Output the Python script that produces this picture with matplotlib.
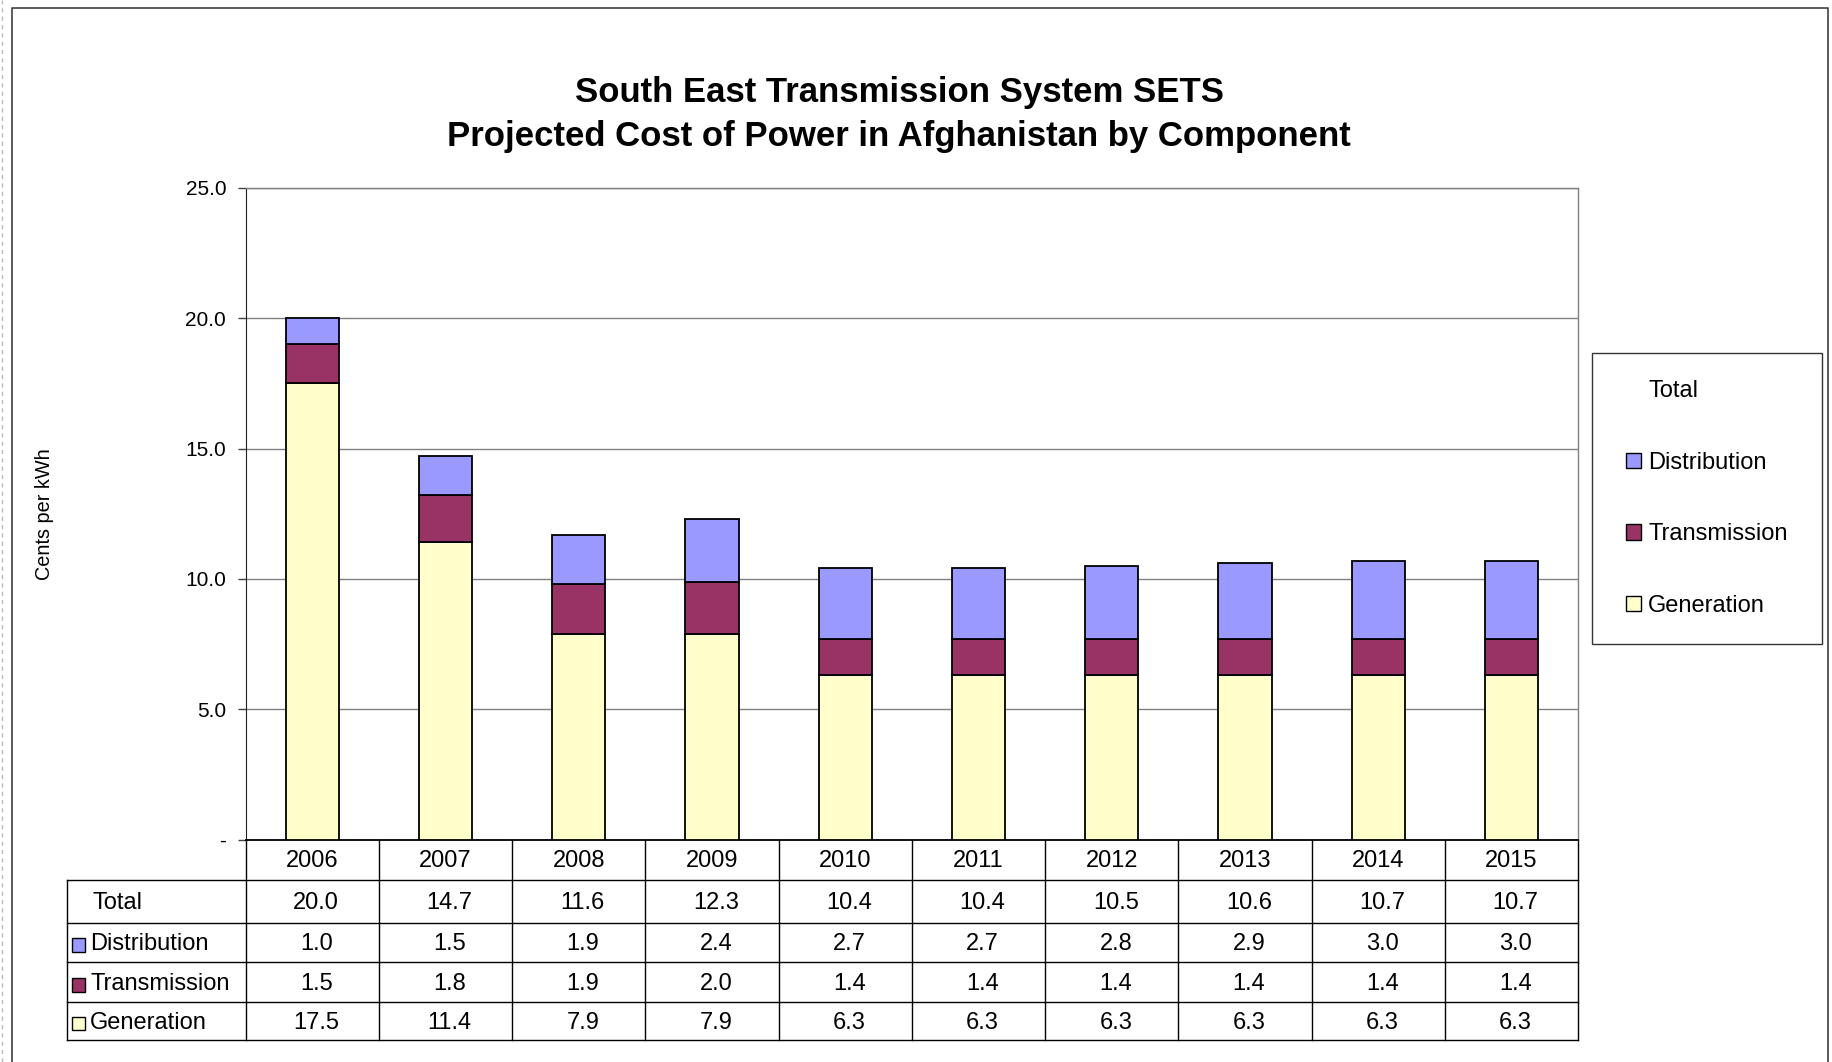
import numpy as np
import matplotlib.pyplot as plt
import matplotlib.transforms as mtransforms
from matplotlib.patches import Rectangle
from matplotlib.lines import Line2D

years = ['2006', '2007', '2008', '2009', '2010', '2011', '2012', '2013', '2014', '2015']
generation = [17.5, 11.4, 7.9, 7.9, 6.3, 6.3, 6.3, 6.3, 6.3, 6.3]
transmission = [1.5, 1.8, 1.9, 2.0, 1.4, 1.4, 1.4, 1.4, 1.4, 1.4]
distribution = [1.0, 1.5, 1.9, 2.4, 2.7, 2.7, 2.8, 2.9, 3.0, 3.0]
totals = [20.0, 14.7, 11.6, 12.3, 10.4, 10.4, 10.5, 10.6, 10.7, 10.7]

series_names = ['Distribution', 'Transmission', 'Generation']
series_colors = ['#9999FF', '#993366', '#FFFFCC']

plt.rcParams['font.family'] = ['Liberation Sans', 'DejaVu Sans']


def main():
    fig = plt.figure(figsize=(18.33, 10.62), dpi=100)
    ax = fig.add_axes([0.134, 0.2095, 0.727, 0.6135])

    x = np.arange(len(years))
    width = 0.4
    gen = np.array(generation)
    trn = np.array(transmission)
    dst = np.array(distribution)
    ax.bar(x, gen, width, color=series_colors[2], edgecolor='black', lw=1.3, zorder=3)
    ax.bar(x, trn, width, bottom=gen, color=series_colors[1], edgecolor='black', lw=1.3, zorder=3)
    ax.bar(x, dst, width, bottom=gen + trn, color=series_colors[0], edgecolor='black', lw=1.3, zorder=3)

    ax.set_xlim(-0.5, len(years) - 0.5)
    ax.set_ylim(0, 25)
    yt = np.arange(0, 26, 5)
    ax.set_yticks(yt)
    ax.set_yticklabels(['-' if v == 0 else '{:.1f}'.format(v) for v in yt], fontsize=15)
    ax.tick_params(axis='y', length=6, width=1, color='#404040', pad=8)
    ax.set_xticks([])
    ax.yaxis.grid(True, color='#808080', lw=1)
    ax.set_axisbelow(True)
    for side in ['top', 'right']:
        ax.spines[side].set_color('#808080')
        ax.spines[side].set_linewidth(1)
    ax.spines['left'].set_color('#202020')
    ax.spines['bottom'].set_color('black')
    ax.spines['bottom'].set_linewidth(1.3)

    # data table under the bars, aligned with categories
    trans = mtransforms.blended_transform_factory(ax.transData, ax.transAxes)
    rows = [0, -0.0628, -0.1275, -0.1885, -0.2496, -0.307]
    lab_left = -1.842
    line_kw = dict(color='black', lw=1, transform=trans, clip_on=False)
    for b in np.arange(-0.5, len(years), 1.0):
        ax.add_line(Line2D([b, b], [rows[0], rows[-1]], **line_kw))
    ax.add_line(Line2D([lab_left, lab_left], [rows[1], rows[-1]], **line_kw))
    for r in rows[1:]:
        ax.add_line(Line2D([lab_left, len(years) - 0.5], [r, r], **line_kw))

    for i, yr in enumerate(years):
        ax.text(i, (rows[0] + rows[1]) / 2 - 0.002, yr, transform=trans, ha='center', va='center', fontsize=17)

    table_rows = [('Total', totals, None),
                  ('Distribution', distribution, series_colors[0]),
                  ('Transmission', transmission, series_colors[1]),
                  ('Generation', generation, series_colors[2])]
    for k, (name, vals, col) in enumerate(table_rows):
        yc = (rows[k + 1] + rows[k + 2]) / 2 - 0.003
        if col is None:
            ax.text(lab_left + 0.19, yc, name, transform=trans, ha='left', va='center', fontsize=17)
        else:
            ax.add_patch(Rectangle((lab_left + 0.04, yc - 0.0115), 0.1, 0.021, fc=col, ec='black',
                                   lw=1, transform=trans, clip_on=False))
            ax.text(lab_left + 0.175, yc, name, transform=trans, ha='left', va='center', fontsize=17)
        for i, v in enumerate(vals):
            ax.text(i + 0.03, yc, '{:.1f}'.format(v), transform=trans, ha='center', va='center', fontsize=17)

    fig.text(0.4905, 0.8925, 'South East Transmission System SETS\nProjected Cost of Power in Afghanistan by Component',
             ha='center', va='center', fontsize=25, fontweight='bold', linespacing=1.42)
    fig.text(0.0245, 0.516, 'Cents per kWh', rotation=90, ha='center', va='center', fontsize=14.3)

    # legend with its own box
    fig.patches.append(Rectangle((0.8685, 0.3936), 0.1255, 0.274, transform=fig.transFigure,
                                 fc='white', ec='#333333', lw=1))
    handles = [Rectangle((0, 0), 1, 1, fc='none', ec='none')]
    handles += [Rectangle((0, 0), 1, 1, fc=c, ec='black', lw=1) for c in series_colors]
    fig.legend(handles, ['Total'] + series_names, loc='center', bbox_to_anchor=(0.9313, 0.5306),
               frameon=False, fontsize=17, labelspacing=2.1, handlelength=0.62, handleheight=0.62,
               handletextpad=0.3)

    # outer chart frame
    fig.add_artist(Line2D([0.0063, 0.0063, 0.9973, 0.9973], [0.0, 0.9927, 0.9927, 0.0],
                          transform=fig.transFigure, color='#404040', lw=1.2))
    fig.add_artist(Line2D([0.001, 0.001], [0.0, 1.0], transform=fig.transFigure,
                          color='#bbbbbb', lw=1, ls=(0, (3, 3))))

    fig.savefig('out.png', dpi=100)


if __name__ == '__main__':
    main()
